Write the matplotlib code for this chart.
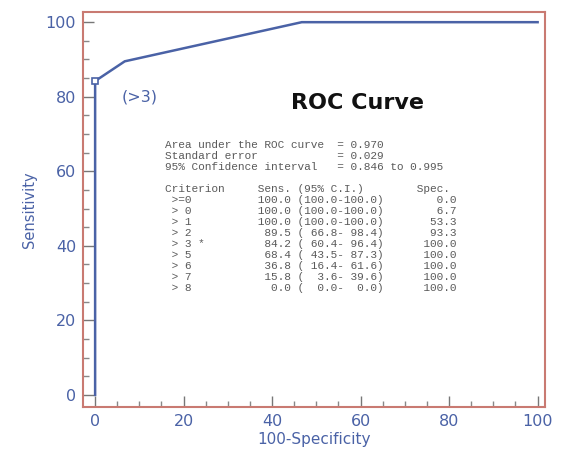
import matplotlib
matplotlib.use("Agg")
from matplotlib import pyplot as plt
from matplotlib.ticker import MultipleLocator

# ROC table values (criterion, sensitivity, 95% CI, specificity)
criteria = [">=0", "> 0", "> 1", "> 2", "> 3 *", "> 5", "> 6", "> 7", "> 8"]
sens = [100.0, 100.0, 100.0, 89.5, 84.2, 68.4, 36.8, 15.8, 0.0]
ci_lo = [100.0, 100.0, 100.0, 66.8, 60.4, 43.5, 16.4, 3.6, 0.0]
ci_hi = [100.0, 100.0, 100.0, 98.4, 96.4, 87.3, 61.6, 39.6, 0.0]
spec = [0.0, 6.7, 53.3, 93.3, 100.0, 100.0, 100.0, 100.0, 100.0]

auc = 0.970
se = 0.029
auc_ci = (0.846, 0.995)
best_idx = 4

blue = "#4a62a6"
red = "#c97a72"

fig = plt.figure(figsize=(5.62, 4.66), dpi=100)
ax = fig.add_axes([0.148, 0.127, 0.822, 0.847])

# curve: x = 100 - specificity, y = sensitivity (sorted from low to high)
xs = [100 - s for s in spec][::-1]
ys = sens[::-1]
xs = [0.0] + xs
ys = [0.0] + ys
ax.plot(xs, ys, color=blue, lw=1.8, solid_joinstyle="miter")
ax.plot(100 - spec[best_idx], sens[best_idx], marker="s", ms=5, mfc="white",
        mec=blue, mew=1.2, zorder=3)
ax.text(6, 80, "(>3)", color=blue, fontsize=11.5, ha="left", va="center")

ax.set_xlim(-2.7, 101.7)
ax.set_ylim(-3.2, 102.7)
ax.xaxis.set_major_locator(MultipleLocator(20))
ax.yaxis.set_major_locator(MultipleLocator(20))
ax.xaxis.set_minor_locator(MultipleLocator(5))
ax.yaxis.set_minor_locator(MultipleLocator(5))
ax.tick_params(which="major", direction="in", length=8, width=1, color="#777777",
               labelcolor=blue, labelsize=11.5, pad=5)
ax.tick_params(which="minor", direction="in", length=4, width=1, color="#888888")
for sp in ax.spines.values():
    sp.set_color(red)
    sp.set_linewidth(1.5)

ax.set_xlabel("100-Specificity", color=blue, fontsize=11, labelpad=2)
ax.set_ylabel("Sensitivity", color=blue, fontsize=10.5, labelpad=6)

fig.text(358 / 562, 1 - 103 / 466, "ROC Curve", fontsize=16, fontweight="bold",
         ha="center", va="center", color="#111111")

lines = [
    "Area under the ROC curve  = %.3f" % auc,
    "Standard error            = %.3f" % se,
    "95%% Confidence interval   = %.3f to %.3f" % auc_ci,
    "",
    "Criterion     Sens. (95% C.I.)        Spec.",
]
for c, s, lo, hi, sp in zip(criteria, sens, ci_lo, ci_hi, spec):
    lines.append(" %-6s       %5.1f (%5.1f-%5.1f)%11.1f" % (c, s, lo, hi, sp))

y0 = 145
for i, line in enumerate(lines):
    fig.text(165 / 562, 1 - (y0 + i * 11) / 466, line, family="Liberation Mono",
             fontsize=8.0, color="#5a5a5a", ha="left", va="center")

fig.savefig("out.png", dpi=100)
